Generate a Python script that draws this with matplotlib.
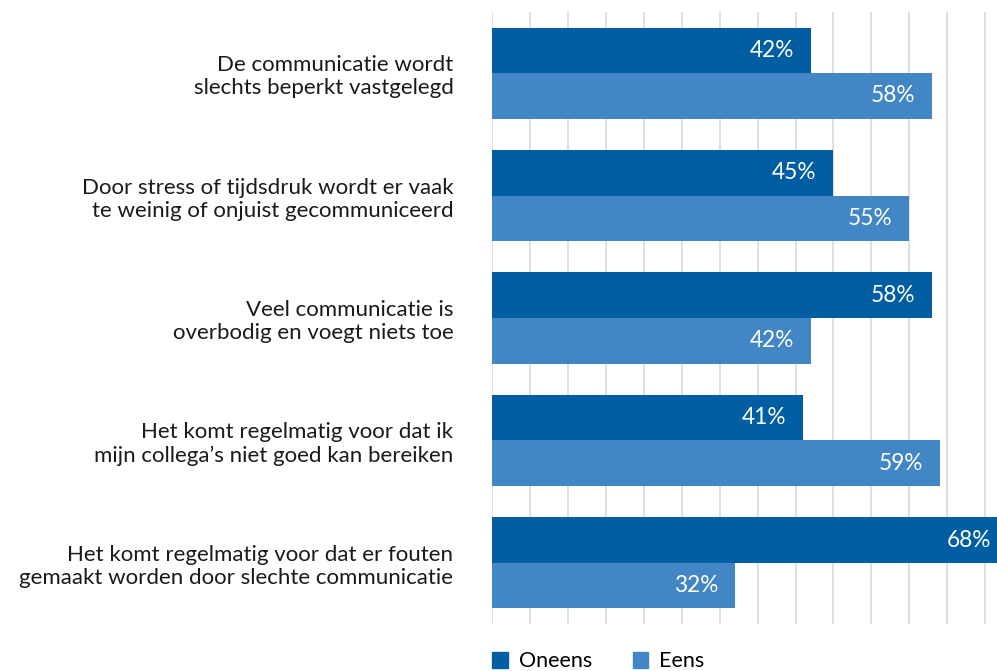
import numpy as np
import matplotlib.pyplot as plt
from matplotlib.patches import Patch

plt.rcParams['font.family'] = ['Lato', 'DejaVu Sans']

categories = [
    "De communicatie wordt\nslechts beperkt vastgelegd",
    "Door stress of tijdsdruk wordt er vaak\nte weinig of onjuist gecommuniceerd",
    "Veel communicatie is\noverbodig en voegt niets toe",
    "Het komt regelmatig voor dat ik\nmijn collega’s niet goed kan bereiken",
    "Het komt regelmatig voor dat er fouten\ngemaakt worden door slechte communicatie",
]
oneens = [42, 45, 58, 41, 68]
eens = [58, 55, 42, 59, 32]

kleur_oneens = '#025EA3'
kleur_eens = '#4286C6'

fig = plt.figure(figsize=(9.97, 6.71), dpi=100)
# de as loopt rechts door tot voorbij de rand van de figuur
ax = fig.add_axes([492.3 / 997, 47 / 671, 70 * 7.58 / 997, 612 / 671])

y = np.arange(len(categories))
h = 0.372
ax.barh(y - h / 2, oneens, height=h, color=kleur_oneens, zorder=2)
ax.barh(y + h / 2, eens, height=h, color=kleur_eens, zorder=2)

for i in range(len(categories)):
    for val, yy in ((oneens[i], y[i] - h / 2), (eens[i], y[i] + h / 2)):
        ax.annotate(f"{val}%", xy=(val, yy), xytext=(-12, 0),
                    textcoords='offset points', ha='right', va='center',
                    color='white', fontsize=16.3)

ax.set_xlim(0, 70)
ax.set_ylim(len(categories) - 0.5, -0.5)
ax.set_xticks(range(0, 75, 5))
ax.xaxis.grid(True, color='#d9d9d9', linewidth=1.2, zorder=0)
ax.tick_params(axis='x', length=0, labelbottom=False)
ax.set_yticks(y)
ax.set_yticklabels(categories, fontsize=16, color='#1a1a1a', linespacing=1.2)
ax.tick_params(axis='y', length=0, pad=28)
for s in ax.spines.values():
    s.set_visible(False)

handles = [Patch(color=kleur_oneens, label='Oneens'),
           Patch(color=kleur_eens, label='Eens')]
fig.legend(handles=handles, loc='upper left', ncol=2, frameon=False,
           bbox_to_anchor=(486 / 997, 1 - 645 / 671), fontsize=15.5,
           handlelength=0.72, handleheight=0.72, handletextpad=0.5,
           columnspacing=1.9, borderaxespad=0, borderpad=0.3)

fig.savefig('out.png', dpi=100)
